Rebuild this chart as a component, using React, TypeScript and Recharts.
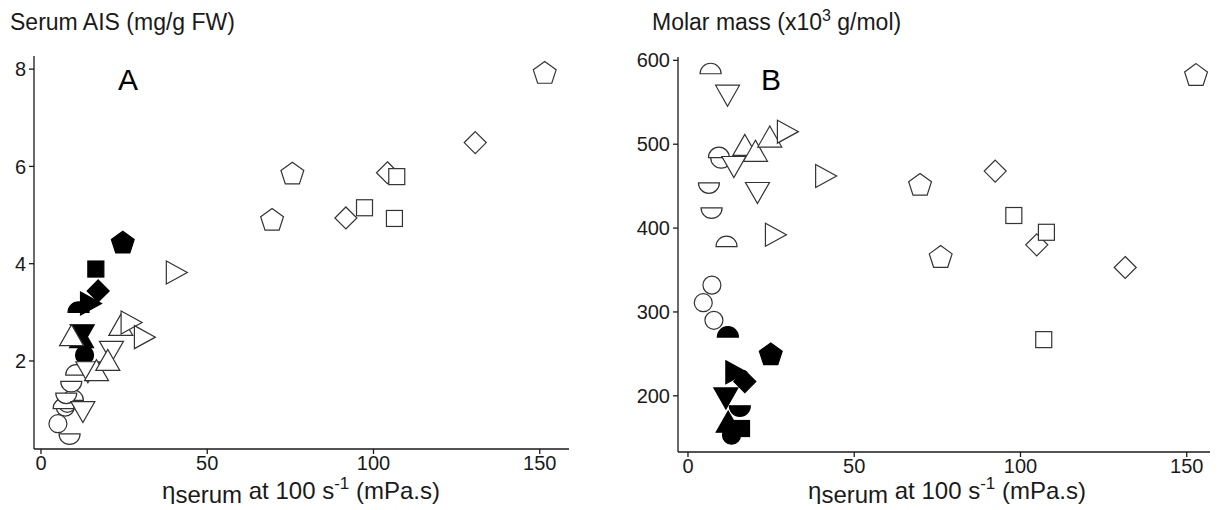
import React from 'react';
import { ScatterChart, Scatter, XAxis, YAxis } from 'recharts';

// marker groups, same order in every array below
const groups = ['circle', 'dome', 'bowl', 'triDown', 'triUp', 'triRight', 'pentagon', 'diamond', 'square'];

// open symbols, panel A
const viscOpenA = [
  [5.1, 7.3, 7.9],
  [6.8, 9.6, 10.6],
  [8.6, 7.6, 9.1],
  [12.6, 14.1, 21.2],
  [9.2, 16.7, 20.1, 24.0],
  [26.2, 30.2, 39.8],
  [69.5, 75.6, 151.5],
  [91.7, 104.2, 130.6],
  [97.3, 106.3, 107.0],
];
const aisOpen = [
  [0.71, 1.05, 1.13],
  [1.02, 1.19, 1.71],
  [0.5, 1.34, 1.58],
  [1.02, 1.84, 2.26],
  [2.46, 1.74, 1.95, 2.67],
  [2.79, 2.49, 3.82],
  [4.91, 5.86, 7.93],
  [4.94, 5.87, 6.49],
  [5.15, 4.93, 5.79],
];

// filled symbols, panel A
const viscFilledA = [13.1, 11.3, 15.8, 12.4, 12.2, 14.0, 24.6, 17.2, 16.5];
const aisFilled = [2.12, 3.0, 1.92, 2.6, 2.42, 3.18, 4.44, 3.44, 3.89];

// open symbols, panel B
const viscOpenB = [
  [7.2, 4.6, 7.8],
  [6.8, 9.3, 11.6],
  [10.0, 6.3, 7.1],
  [11.9, 13.8, 20.9],
  [17.1, 20.3, 24.6],
  [29.0, 40.5, 25.4],
  [152.8, 69.8, 76.0],
  [92.4, 104.9, 131.5],
  [98.0, 107.8, 107.0],
];
const massOpen = [
  [332, 311, 290],
  [584, 484, 378],
  [484, 454, 424],
  [562, 477, 446],
  [495, 488, 505],
  [515, 462, 392],
  [583, 452, 366],
  [468, 380, 353],
  [415, 395, 267],
];

// filled symbols, panel B
const viscFilledB = [13.1, 12.0, 15.6, 11.4, 12.1, 13.5, 24.9, 17.1, 16.1];
const massFilled = [153, 270, 188, 201, 165, 228, 250, 217, 161];

const xTicks = [0, 50, 100, 150];
const aisTicks = [2, 4, 6, 8];
const massTicks = [200, 300, 400, 500, 600];

const font = '"Liberation Sans", Arial, Helvetica, sans-serif';
const ink = '#1a1a1a';

const marker = (kind: string, filled: boolean) => (props: any) => {
  const { cx, cy } = props;
  if (cx == null || cy == null) return <g />;
  const fill = filled ? '#000' : '#fff';
  const stroke = filled ? '#000' : '#333';
  const common = { fill, stroke, strokeWidth: 1.2 };
  switch (kind) {
    case 'circle':
      return <circle cx={cx} cy={cy} r={9} {...common} />;
    case 'dome':
      return <path d={`M${cx - 10.5},${cy} A10.5,10.5 0 0 1 ${cx + 10.5},${cy} Z`} {...common} />;
    case 'bowl':
      return <path d={`M${cx - 10.5},${cy} A10.5,10.5 0 0 0 ${cx + 10.5},${cy} Z`} {...common} />;
    case 'triUp':
      return <polygon points={`${cx},${cy - 14} ${cx - 12},${cy + 7} ${cx + 12},${cy + 7}`} {...common} />;
    case 'triDown':
      return <polygon points={`${cx - 12},${cy - 7} ${cx + 12},${cy - 7} ${cx},${cy + 14}`} {...common} />;
    case 'triRight':
      return <polygon points={`${cx - 7},${cy - 11.5} ${cx - 7},${cy + 11.5} ${cx + 14},${cy}`} {...common} />;
    case 'diamond':
      return <polygon points={`${cx},${cy - 11} ${cx + 11},${cy} ${cx},${cy + 11} ${cx - 11},${cy}`} {...common} />;
    case 'square':
      return <rect x={cx - 8} y={cy - 8} width={16} height={16} {...common} />;
    case 'pentagon': {
      const pts = [0, 1, 2, 3, 4]
        .map((i) => {
          const a = -Math.PI / 2 + (i * 2 * Math.PI) / 5;
          return `${cx + 12 * Math.cos(a)},${cy + 1 + 12 * Math.sin(a)}`;
        })
        .join(' ');
      return <polygon points={pts} {...common} />;
    }
    default:
      return <g />;
  }
};

const toPoints = (xs: number[], ys: number[]) => xs.map((x, i) => ({ x, y: ys[i] }));

const axisStyle = {
  axisLine: { stroke: ink, strokeWidth: 1.3 },
  tickLine: { stroke: ink, strokeWidth: 1.3 },
  tickSize: 5,
  tick: { fill: ink, fontSize: 20, fontFamily: font },
};

interface PanelProps {
  width: number;
  xDomain: [number, number];
  yDomain: [number, number];
  yTicks: number[];
  yWidth: number;
  margin: { top: number; right: number; bottom: number; left: number };
  openX: number[][];
  openY: number[][];
  filledX: number[];
  filledY: number[];
}

const Panel = ({ width, xDomain, yDomain, yTicks, yWidth, margin, openX, openY, filledX, filledY }: PanelProps) => (
  <ScatterChart width={width} height={510} margin={margin}>
    <XAxis
      type="number"
      dataKey="x"
      domain={xDomain}
      ticks={xTicks}
      allowDataOverflow
      height={40}
      tickMargin={2}
      {...axisStyle}
    />
    <YAxis
      type="number"
      dataKey="y"
      domain={yDomain}
      ticks={yTicks}
      allowDataOverflow
      width={yWidth}
      tickMargin={3}
      {...axisStyle}
    />
    {groups.map((g, i) => (
      <Scatter
        key={'f' + g}
        data={[{ x: filledX[i], y: filledY[i] }]}
        shape={marker(g, true)}
        isAnimationActive={false}
      />
    ))}
    {groups.map((g, i) => (
      <Scatter
        key={'o' + g}
        data={toPoints(openX[i], openY[i])}
        shape={marker(g, false)}
        isAnimationActive={false}
      />
    ))}
  </ScatterChart>
);

const XLabel = ({ center }: { center: number }) => (
  <div
    style={{
      position: 'absolute',
      left: center - 200,
      width: 400,
      top: 478,
      textAlign: 'center',
      fontFamily: font,
      fontSize: 24,
      lineHeight: '26px',
      color: ink,
      whiteSpace: 'nowrap',
    }}
  >
    η<span style={{ position: 'relative', top: 4 }}>serum</span> at 100 s
    <sup style={{ fontSize: 17, verticalAlign: 'baseline', position: 'relative', top: -10 }}>-1</sup> (mPa.s)
  </div>
);

const titleStyle: React.CSSProperties = {
  position: 'absolute',
  top: 9,
  fontFamily: font,
  fontSize: 23,
  lineHeight: '26px',
  color: ink,
  whiteSpace: 'nowrap',
};

const letterStyle: React.CSSProperties = {
  position: 'absolute',
  top: 62,
  fontFamily: font,
  fontSize: 30,
  lineHeight: '36px',
  color: '#000',
};

export default function App() {
  return (
    <div style={{ position: 'absolute', left: 0, top: 0, width: 1223, height: 510, background: '#fff', overflow: 'hidden' }}>
      <div style={{ position: 'absolute', left: 0, top: 0 }}>
        <Panel
          width={612}
          xDomain={[-2.1, 158.8]}
          yDomain={[0.19, 8.27]}
          yTicks={aisTicks}
          yWidth={34}
          margin={{ top: 56, right: 43, bottom: 21, left: 0 }}
          openX={viscOpenA}
          openY={aisOpen}
          filledX={viscFilledA}
          filledY={aisFilled}
        />
      </div>
      <div style={{ position: 'absolute', left: 612, top: 0 }}>
        <Panel
          width={611}
          xDomain={[-3, 157]}
          yDomain={[133, 604]}
          yTicks={massTicks}
          yWidth={50}
          margin={{ top: 57, right: 13, bottom: 18, left: 16 }}
          openX={viscOpenB}
          openY={massOpen}
          filledX={viscFilledB}
          filledY={massFilled}
        />
      </div>
      <div style={{ ...titleStyle, left: 10 }}>Serum AIS (mg/g FW)</div>
      <div style={{ ...titleStyle, left: 652 }}>
        Molar mass (x10<sup style={{ fontSize: 16, verticalAlign: 'baseline', position: 'relative', top: -9 }}>3</sup> g/mol)
      </div>
      <div style={{ ...letterStyle, left: 118 }}>A</div>
      <div style={{ ...letterStyle, left: 761 }}>B</div>
      <XLabel center={301} />
      <XLabel center={947} />
    </div>
  );
}
